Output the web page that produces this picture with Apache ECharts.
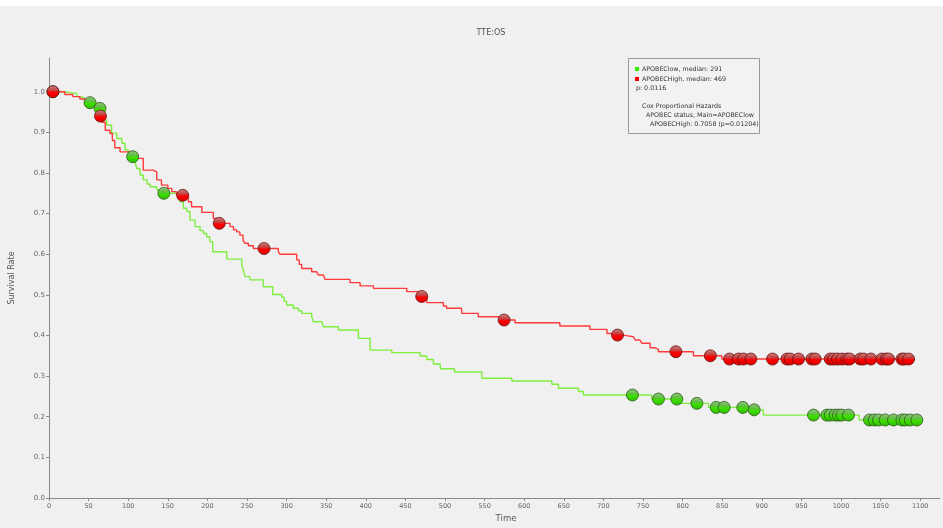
<!DOCTYPE html>
<html>
<head>
<meta charset="utf-8">
<script src="https://cdn.jsdelivr.net/npm/echarts@6/dist/echarts.min.js"></script>
<style>
  html, body { margin: 0; padding: 0; background: #ffffff; }
  #chart { width: 943px; height: 528px; }
</style>
</head>
<body>
<div id="chart"></div>
<script>
// Kaplan-Meier estimate, APOBEClow group: survival drops to surv[i] at time[i]
const lowTimes = [0, 18, 35, 40, 45, 60, 67, 72.8, 79, 85.5, 92, 96, 100, 103, 108.6, 110.7, 115, 119, 124, 127.6, 136, 142,
  163.3, 165.4, 169.6, 174, 178, 184.4, 190.7, 195, 199, 203, 206.7, 224.4, 243.4, 245.4, 247.5, 253.8, 270.7, 282.5,
  293.9, 297, 300, 308.5, 315, 319, 331.7, 333.8, 344.4, 346.4, 365.4, 390.6, 405.4, 432.8, 468.5, 477, 485.4, 494,
  512, 546.5, 584.4, 634.9, 643.2, 668.5, 674.8, 761, 797, 832.7, 885, 902, 1023];
const lowSurv = [1.0, 0.996, 0.988, 0.984, 0.973, 0.959, 0.930, 0.918, 0.898, 0.885, 0.873, 0.857, 0.848, 0.840, 0.828, 0.811, 0.795, 0.783, 0.773, 0.766, 0.758, 0.750,
  0.742, 0.729, 0.713, 0.705, 0.684, 0.668, 0.658, 0.651, 0.643, 0.631, 0.606, 0.588, 0.573, 0.561, 0.545, 0.537, 0.520, 0.501,
  0.494, 0.484, 0.475, 0.467, 0.461, 0.4545, 0.446, 0.434, 0.430, 0.4216, 0.4135, 0.393, 0.364, 0.3577, 0.3495, 0.341, 0.330, 0.318,
  0.310, 0.2946, 0.288, 0.280, 0.270, 0.262, 0.2535, 0.2435, 0.233, 0.223, 0.217, 0.204, 0.192];
const lowEnd = 1100;
const lowCensored = [5, 51.8, 64.4, 105.7, 145, 736.7, 769.5, 792.7, 818, 842.4, 852.5, 876, 890.4,
  965.3, 982.1, 986.4, 992.7, 996.9, 1001.2, 1009.5, 1036, 1042, 1047.4, 1055.8, 1066.3, 1076.9, 1081, 1087.4, 1095.8];

// Kaplan-Meier estimate, APOBECHigh group
const highTimes = [0, 20, 30, 39, 47.6, 62, 64, 67, 71, 77, 80, 83, 89.7, 104, 119, 131.7, 136, 142, 150, 155, 161,
  176, 180, 193, 207.5, 212, 228.6, 233, 237, 241, 245, 247.5, 251.7, 258, 289.6, 291.7, 312.8, 316, 319, 331.7, 338,
  340, 346.5, 348.6, 380, 392.8, 409.6, 451.7, 467, 477, 498, 502, 521, 542, 571, 588.5, 645, 683, 704.5, 716, 725,
  738, 740, 746, 748.5, 759, 765, 769.5, 813.7, 849.5];
const highSurv = [1.0, 0.993, 0.988, 0.982, 0.967, 0.951, 0.940, 0.925, 0.905, 0.897, 0.880, 0.862, 0.852, 0.836, 0.807, 0.803, 0.783, 0.770, 0.762, 0.754, 0.745,
  0.729, 0.717, 0.703, 0.688, 0.676, 0.668, 0.660, 0.655, 0.647, 0.635, 0.627, 0.621, 0.614, 0.606, 0.600, 0.586, 0.575, 0.565, 0.557, 0.553,
  0.549, 0.545, 0.538, 0.530, 0.522, 0.516, 0.508, 0.496, 0.481, 0.4726, 0.467, 0.4545, 0.446, 0.438, 0.4315, 0.4235, 0.415, 0.405, 0.401, 0.397,
  0.393, 0.389, 0.385, 0.381, 0.370, 0.366, 0.360, 0.350, 0.342];
const highEnd = 1093;
const highCensored = [5, 65, 168.8, 215, 271.5, 470.6, 574.6, 717.8, 791.5, 835, 859.2, 870.6, 876.9, 886.2,
  913.5, 931.7, 935.9, 946.4, 963.2, 967.4, 986.4, 990.6, 995.6, 1001.2, 1007.5, 1010.9, 1024.3, 1028.5, 1037.8,
  1051.7, 1057.1, 1060, 1076.9, 1079.8, 1085.3];

const xTicks = [0, 50, 100, 150, 200, 250, 300, 350, 400, 450, 500, 550, 600, 650, 700, 750, 800, 850, 900, 950, 1000, 1050, 1100];
const yTicks = [0, 0.1, 0.2, 0.3, 0.4, 0.5, 0.6, 0.7, 0.8, 0.9, 1.0];

const legendLines = [
  'APOBEClow, median: 291',
  'APOBECHigh, median: 469',
  'p: 0.0116',
  'Cox Proportional Hazards',
  'APOBEC status, Main=APOBEClow',
  'APOBECHigh: 0.7058 (p=0.01204)'
];

function stepLine(times, surv, end) {
  const pts = times.map((t, i) => [t, surv[i]]);
  pts.push([end, surv[surv.length - 1]]);
  return pts;
}
function survivalAt(times, surv, t) {
  let s = surv[0];
  for (let i = 0; i < times.length; i++) { if (times[i] <= t) s = surv[i]; }
  return s;
}
function censorPoints(times, surv, cens) {
  return cens.map(t => [t, survivalAt(times, surv, t)]);
}

const redBall = {
  type: 'linear', x: 0, y: 0, x2: 0, y2: 1,
  colorStops: [
    { offset: 0, color: '#c48a8a' }, { offset: 0.42, color: '#c83a3a' },
    { offset: 0.55, color: '#ff0000' }, { offset: 1, color: '#d80000' }
  ]
};
const greenBall = {
  type: 'linear', x: 0, y: 0, x2: 0, y2: 1,
  colorStops: [
    { offset: 0, color: '#98c08a' }, { offset: 0.42, color: '#5cc03a' },
    { offset: 0.55, color: '#3ee000' }, { offset: 1, color: '#2cb800' }
  ]
};

const chart = echarts.init(document.getElementById('chart'), null, { renderer: 'canvas' });
const fontFam = 'Tahoma, "DejaVu Sans", "Liberation Sans", sans-serif';

const legendGraphics = [
  { type: 'rect', shape: { x: 628.5, y: 58.5, width: 131, height: 75 }, style: { fill: '#f2f2f2', stroke: '#9a9a9a', lineWidth: 1 }, z: 10 },
  { type: 'rect', shape: { x: 635, y: 67, width: 4, height: 4 }, style: { fill: '#33ee00' }, z: 11 },
  { type: 'rect', shape: { x: 635, y: 77, width: 4, height: 4 }, style: { fill: '#ee0000' }, z: 11 }
];
const legendPos = [[642, 69], [642, 79], [636, 88.5], [642, 106.5], [646, 115.5], [650, 124.5]];
legendLines.forEach((txt, i) => {
  legendGraphics.push({
    type: 'text', x: legendPos[i][0], y: legendPos[i][1], z: 11,
    style: { text: txt, fill: '#333', font: '6.3px ' + fontFam, textVerticalAlign: 'middle', textAlign: 'left' }
  });
});

chart.setOption({
  backgroundColor: '#f0f0f0',
  animation: false,
  grid: { left: 49, right: 3, top: 58, bottom: 30 },
  xAxis: {
    type: 'value', min: 0, max: 1125,
    axisLine: { show: true, lineStyle: { color: '#8a8a8a', width: 1 } },
    axisTick: { show: true, length: 3, customValues: xTicks, lineStyle: { color: '#8a8a8a' } },
    axisLabel: { customValues: xTicks, color: '#666', fontSize: 6.5, fontFamily: fontFam, margin: 5,
      formatter: v => String(v) },
    splitLine: { show: false }
  },
  yAxis: {
    type: 'value', min: 0, max: 1.083,
    axisLine: { show: true, lineStyle: { color: '#8a8a8a', width: 1 } },
    axisTick: { show: true, length: 3, customValues: yTicks, lineStyle: { color: '#8a8a8a' } },
    axisLabel: { customValues: yTicks, color: '#666', fontSize: 7, fontFamily: fontFam, margin: 4,
      formatter: v => v.toFixed(1) },
    splitLine: { show: false }
  },
  graphic: [
    { type: 'rect', shape: { x: 0, y: 0, width: 943, height: 6 }, style: { fill: '#ffffff' }, z: 5 },
    { type: 'text', x: 491, y: 33, style: { text: 'TTE:OS', fill: '#555', font: '8px ' + fontFam, textAlign: 'center', textVerticalAlign: 'middle' } },
    { type: 'text', x: 506, y: 519, style: { text: 'Time', fill: '#555', font: '8.5px ' + fontFam, textAlign: 'center', textVerticalAlign: 'middle' } },
    { type: 'text', x: 12, y: 278, rotation: Math.PI / 2, style: { text: 'Survival Rate', fill: '#555', font: '8px ' + fontFam, textAlign: 'center', textVerticalAlign: 'middle' } }
  ].concat(legendGraphics),
  series: [
    { name: 'APOBEClow', type: 'line', step: 'end', showSymbol: false, symbol: 'none',
      data: stepLine(lowTimes, lowSurv, lowEnd), lineStyle: { color: '#7eee3e', width: 1.4 }, z: 2 },
    { name: 'APOBECHigh', type: 'line', step: 'end', showSymbol: false, symbol: 'none',
      data: stepLine(highTimes, highSurv, highEnd), lineStyle: { color: '#ff3a3a', width: 1.4 }, z: 3 },
    { name: 'APOBEClow censored', type: 'scatter', symbol: 'circle', symbolSize: 12,
      data: censorPoints(lowTimes, lowSurv, lowCensored),
      itemStyle: { color: greenBall, borderColor: '#2a5a1a', borderWidth: 0.8, opacity: 1 }, z: 4 },
    { name: 'APOBECHigh censored', type: 'scatter', symbol: 'circle', symbolSize: 12,
      data: censorPoints(highTimes, highSurv, highCensored),
      itemStyle: { color: redBall, borderColor: '#6a1010', borderWidth: 0.8, opacity: 1 }, z: 5 }
  ]
});
</script>
</body>
</html>
